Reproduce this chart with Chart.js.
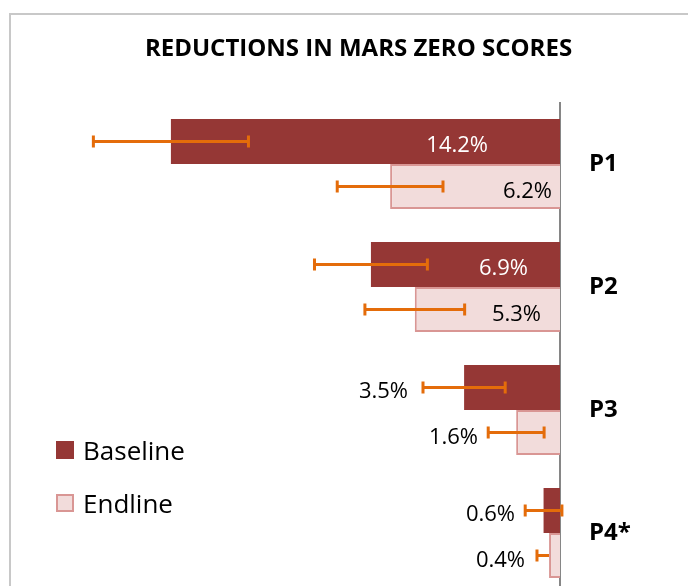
<!DOCTYPE html>
<html><head><meta charset="utf-8">
<script src="https://cdn.jsdelivr.net/npm/chart.js@4"></script>
<style>
html,body{margin:0;padding:0;overflow:hidden;background:#fff}
#wrap{position:relative;width:688px;height:586px;overflow:hidden}
canvas{display:block}
</style></head><body><div id="wrap"><canvas id="c" width="688" height="600"></canvas></div>
<script>
// ---- data ----
const categories = ['P1', 'P2', 'P3', 'P4*'];
const seriesNames = ['Baseline', 'Endline'];
const baseline = [14.2, 6.9, 3.5, 0.6];
const endline = [6.2, 5.3, 1.6, 0.4];
// error bar extents (percentage points) toward larger / smaller values
const baselineErrHigh = [2.83, 2.06, 1.5, 0.67];
const baselineErrLow = [2.83, 2.06, 1.5, 0.67];
const endlineErrHigh = [1.93, 1.82, 1.02, 0.44];
const endlineErrLow = [1.93, 1.82, 1.02, 0];
const chartTitle = 'REDUCTIONS IN MARS ZERO SCORES';

// ---- styling / label placement (not data) ----
const FONT = "'Open Sans', 'Noto Sans', sans-serif";
const labelRightOffsets = [[72, 32, 152, 45], [8, 19, 82, 35]]; // px from axis to label right edge
const labelColors = [['#ffffff', '#ffffff', '#000000', '#000000'], ['#000000', '#000000', '#000000', '#000000']];

const errHigh = [baselineErrHigh, endlineErrHigh];
const errLow = [baselineErrLow, endlineErrLow];

const decor = {
  id: 'decor',
  beforeDraw(chart) {
    const ctx = chart.ctx;
    ctx.save();
    ctx.fillStyle = '#fff';
    ctx.fillRect(0, 0, chart.width, chart.height);
    ctx.strokeStyle = '#C8C8C8';
    ctx.lineWidth = 2;
    ctx.beginPath();
    ctx.moveTo(10, chart.height + 5);
    ctx.lineTo(10, 14);
    ctx.lineTo(chart.width + 5, 14);
    ctx.stroke();
    // title
    ctx.fillStyle = '#000';
    ctx.font = 'bold 24px ' + FONT;
    ctx.textAlign = 'center';
    ctx.textBaseline = 'alphabetic';
    ctx.fillText(chartTitle, 358.5, 56);
    ctx.restore();
  },
  afterDatasetsDraw(chart) {
    const ctx = chart.ctx;
    const xs = chart.scales.x;
    ctx.save();
    // error bars
    chart.data.datasets.forEach((ds, di) => {
      const meta = chart.getDatasetMeta(di);
      meta.data.forEach((el, i) => {
        const v = ds.data[i];
        const xl = xs.getPixelForValue(v + errHigh[di][i]);
        const xr = xs.getPixelForValue(v - errLow[di][i]);
        const y = el.y;
        ctx.strokeStyle = '#E46C0A';
        ctx.lineWidth = 3;
        ctx.beginPath();
        ctx.moveTo(xl, y); ctx.lineTo(xr, y);
        if (errHigh[di][i] > 0) { ctx.moveTo(xl, y - 6); ctx.lineTo(xl, y + 6); }
        if (errLow[di][i] > 0) { ctx.moveTo(xr, y - 6); ctx.lineTo(xr, y + 6); }
        ctx.stroke();
      });
    });
    // data labels
    const axisX = chart.chartArea.right;
    ctx.font = '22px ' + FONT;
    ctx.textAlign = 'right';
    ctx.textBaseline = 'alphabetic';
    chart.data.datasets.forEach((ds, di) => {
      const meta = chart.getDatasetMeta(di);
      meta.data.forEach((el, i) => {
        ctx.fillStyle = labelColors[di][i];
        ctx.fillText(ds.data[i].toFixed(1) + '%', axisX - labelRightOffsets[di][i], el.y + 11);
      });
    });
    ctx.restore();
  },
  afterDraw(chart) {
    const ctx = chart.ctx;
    ctx.save();
    const items = [
      { y: 441, ds: chart.data.datasets[0] },
      { y: 494, ds: chart.data.datasets[1] }
    ];
    items.forEach(it => {
      ctx.fillStyle = it.ds.backgroundColor;
      ctx.fillRect(56, it.y, 18, 18);
      if (it.ds.borderWidth) {
        ctx.strokeStyle = it.ds.borderColor;
        ctx.lineWidth = 2;
        ctx.strokeRect(57, it.y + 1, 16, 16);
      }
      ctx.fillStyle = '#000';
      ctx.font = '26px ' + FONT;
      ctx.textAlign = 'left';
      ctx.textBaseline = 'alphabetic';
      ctx.fillText(it.ds.label, 83, it.y + 19);
    });
    ctx.restore();
  }
};

new Chart(document.getElementById('c'), {
  type: 'bar',
  data: {
    labels: categories,
    datasets: [
      { label: seriesNames[0], data: baseline, backgroundColor: '#953735', borderWidth: 0,
        barPercentage: 1, categoryPercentage: 0.732 },
      { label: seriesNames[1], data: endline, backgroundColor: '#F2DCDB', borderColor: '#D99694', borderWidth: 2,
        barPercentage: 1, categoryPercentage: 0.732 }
    ]
  },
  options: {
    indexAxis: 'y',
    responsive: false,
    devicePixelRatio: 1,
    animation: false,
    layout: { padding: { left: 12, right: 0, top: 102.5, bottom: 5.5 } },
    plugins: { legend: { display: false }, title: { display: false }, tooltip: { enabled: false } },
    scales: {
      x: { type: 'linear', min: 0, max: 20, reverse: true, display: false },
      y: {
        position: 'right',
        afterFit(scale) { scale.width = 128; scale.paddingTop = 0; scale.paddingBottom = 0; },
        grid: { drawOnChartArea: false, drawTicks: false },
        border: { display: true, color: '#868686', width: 2 },
        ticks: { color: '#000', padding: 29, font: { family: FONT, size: 24, weight: 'bold' } }
      }
    }
  },
  plugins: [decor]
});
</script>
</body></html>
